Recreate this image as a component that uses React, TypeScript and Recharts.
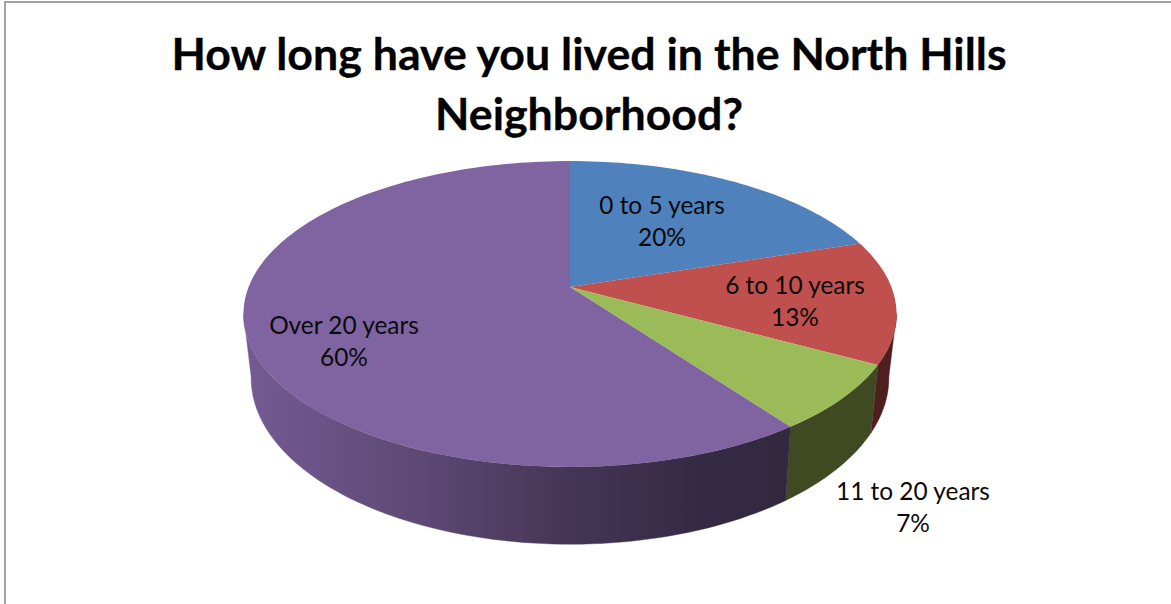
import { PieChart, Pie } from 'recharts';

const categories = ['0 to 5 years', '6 to 10 years', '11 to 20 years', 'Over 20 years'];
const shares = [20, 13, 7, 60];
const topColors = ['#4F81BD', '#C0504D', '#9BBB59', '#8064A2'];
const sideColors = ['#2A4566', '#4E1F1E', '#3F4A22', 'url(#purpleSide)'];
const labelCenters = [
  { x: 662, y: 214 },
  { x: 795, y: 294 },
  { x: 913, y: 500 },
  { x: 344, y: 334 },
];

const data = categories.map((name, i) => ({ name, value: shares[i], fill: topColors[i] }));

// perspective of the tilted disc
const TILT = 0.461;
const KEYSTONE = 0.1765;
const LOWER = { scale: 0.976, tilt: 0.513, keystone: 0.18, drop: 61 };
const SIDE_FROM = 100;
const SIDE_TO = 260;

const project = (cx: number, cy: number, r: number, deg: number, tilt: number, k: number) => {
  const t = (deg * Math.PI) / 180;
  const u = Math.sin(t);
  const v = -Math.cos(t);
  const d = 1 - k * v;
  return [cx + (r * u) / d, cy + (r * tilt * v) / d];
};

const arcPoints = (from: number, to: number, fn: (deg: number) => number[]) => {
  const pts: number[][] = [];
  const steps = Math.max(2, Math.ceil(Math.abs(to - from) / 1.5));
  for (let i = 0; i <= steps; i++) pts.push(fn(from + ((to - from) * i) / steps));
  return pts;
};

const toPath = (pts: number[][]) =>
  pts.map((p, i) => `${i ? 'L' : 'M'}${p[0].toFixed(2)},${p[1].toFixed(2)}`).join(' ') + ' Z';

function DiscSlice(props: any) {
  const { cx, cy, outerRadius, startAngle, endAngle, index } = props;
  const from = 90 - startAngle;
  const to = 90 - endAngle;
  const top = (deg: number) => project(cx, cy, outerRadius, deg, TILT, KEYSTONE);
  const low = (deg: number) =>
    project(cx, cy + LOWER.drop, outerRadius * LOWER.scale, deg, LOWER.tilt, LOWER.keystone);
  const a = Math.max(from, SIDE_FROM);
  const b = Math.min(to, SIDE_TO);
  return (
    <g>
      {b > a && (
        <path
          d={toPath([...arcPoints(a, b, top), ...arcPoints(b, a, low)])}
          fill={sideColors[index]}
          stroke={sideColors[index]}
          strokeWidth={0.4}
        />
      )}
      <path d={toPath([[cx, cy], ...arcPoints(from, to, top)])} fill={topColors[index]} />
    </g>
  );
}

function SliceLabel(props: any) {
  const { index, name, value } = props;
  const c = labelCenters[index];
  return (
    <text
      x={c.x}
      y={c.y}
      textAnchor="middle"
      fill="#0a0a0a"
      fontFamily="Lato, sans-serif"
      fontSize={24.4}
    >
      <tspan x={c.x}>{name}</tspan>
      <tspan x={c.x} dy={32}>{`${value}%`}</tspan>
    </text>
  );
}

export default function App() {
  return (
    <div
      style={{
        position: 'absolute',
        left: 0,
        top: 0,
        width: 1171,
        height: 604,
        overflow: 'hidden',
        background: '#fff',
      }}
    >
      <div
        style={{
          position: 'absolute',
          left: 4,
          top: 1,
          width: 1167,
          height: 603,
          boxSizing: 'border-box',
          borderTop: '2px solid #a3a3a3',
          borderLeft: '2px solid #a3a3a3',
        }}
      />
      <div
        style={{
          position: 'absolute',
          left: 0,
          top: 23,
          width: 1178,
          textAlign: 'center',
          fontFamily: 'Lato, sans-serif',
          fontWeight: 700,
          fontSize: 44.7,
          lineHeight: '60px',
          color: '#000',
          WebkitTextStroke: '0.3px #000',
        }}
      >
        How long have you lived in the North Hills
        <br />
        Neighborhood?
      </div>
      <div style={{ position: 'absolute', left: 0, top: 0 }}>
        <PieChart width={1171} height={604} margin={{ top: 0, right: 0, bottom: 0, left: 0 }}>
          <defs>
            <linearGradient id="purpleSide" gradientUnits="userSpaceOnUse" x1={250} y1={0} x2={790} y2={0}>
              <stop offset="0%" stopColor="#735A92" />
              <stop offset="33%" stopColor="#5C4872" />
              <stop offset="59%" stopColor="#443555" />
              <stop offset="83%" stopColor="#352A45" />
              <stop offset="100%" stopColor="#32283F" />
            </linearGradient>
          </defs>
          <Pie
            data={data}
            dataKey="value"
            nameKey="name"
            cx={570}
            cy={287}
            outerRadius={321.4}
            startAngle={90}
            endAngle={-270}
            stroke="none"
            shape={DiscSlice}
            label={SliceLabel}
            labelLine={false}
            isAnimationActive={false}
          />
        </PieChart>
      </div>
    </div>
  );
}
